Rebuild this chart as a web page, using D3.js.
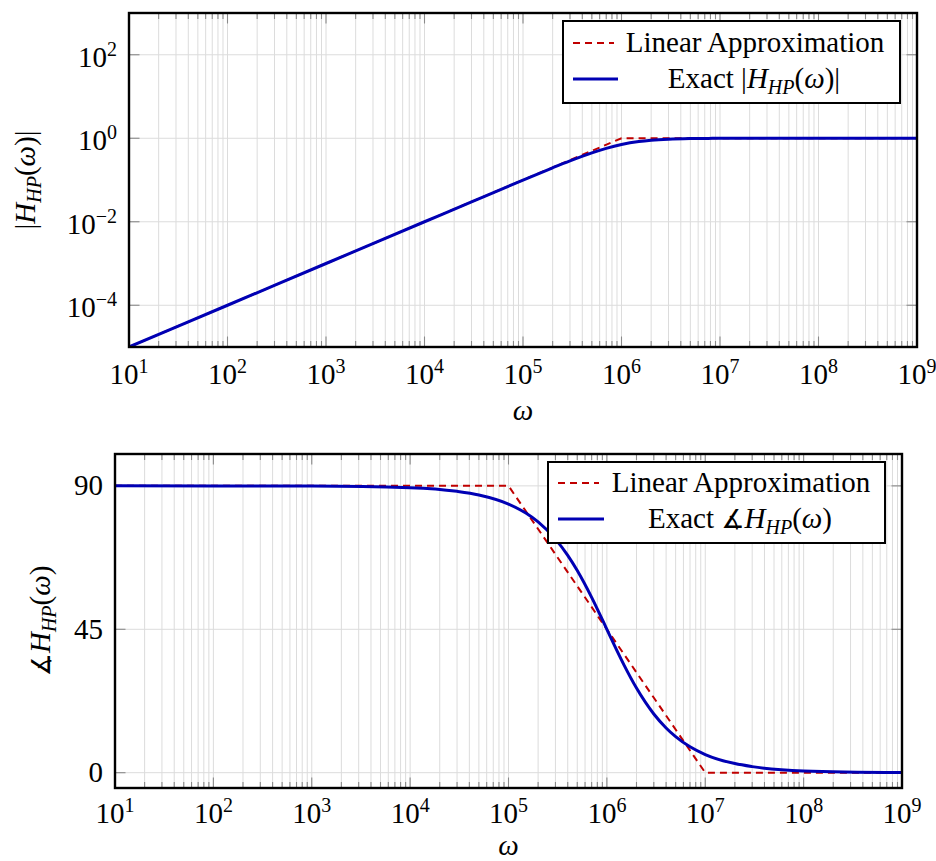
<!DOCTYPE html>
<html>
<head>
<meta charset="utf-8">
<script src="https://cdn.jsdelivr.net/npm/d3@7"></script>
<style>
  html, body { margin: 0; padding: 0; background: #fff; }
</style>
</head>
<body>
<svg id="chart" width="936" height="861"></svg>
<script>
// ---------------- data ----------------
const xTickExponents = [1, 2, 3, 4, 5, 6, 7, 8, 9];
const magTickExponents = [-4, -2, 0, 2];
const phaseTicks = [0, 45, 90];

// magnitude, exact curve
const magOmega = [1e1, 1e2, 1e3, 1e4, 3e4, 1e5, 2e5, 3e5, 5e5, 7e5, 1e6, 1.5e6, 2e6, 3e6, 5e6, 1e7, 3e7, 1e8, 1e9];
const magExact = [1e-5, 1e-4, 1e-3, 1e-2, 0.03, 0.0995, 0.196, 0.287, 0.447, 0.573, 0.707, 0.832, 0.894, 0.949, 0.981, 0.995, 0.9994, 1.0, 1.0];
// magnitude, linear approximation
const magApproxOmega = [1e1, 1e6, 1e9];
const magApprox = [1e-5, 1, 1];

// phase, exact curve (degrees)
const phOmega = [1e1, 1e3, 1e4, 3e4, 5e4, 1e5, 1.5e5, 2e5, 3e5, 4e5, 5e5, 7e5, 8e5, 1e6, 1.2e6, 1.5e6, 2e6, 3e6, 4e6, 5e6, 7e6, 1e7, 2e7, 3e7, 1e8, 1e9];
const phExact = [90, 89.94, 89.43, 88.28, 87.14, 84.29, 81.47, 78.69, 73.3, 68.2, 63.43, 55.0, 51.34, 45, 39.8, 33.69, 26.57, 18.43, 14.04, 11.31, 8.13, 5.71, 2.86, 1.91, 0.57, 0.06];
// phase, linear approximation
const phApproxOmega = [1e1, 1e5, 1e7, 1e9];
const phApprox = [90, 90, 0, 0];

const legendTop = ["Linear Approximation", "Exact"];
const legendBottom = ["Linear Approximation", "Exact"];

// ---------------- style ----------------
const RED = "#c00000", BLUE = "#0000b4", GRID = "#dcdcdc", TICK = "#8a8a8a";
const FS = 29, SUP = 20;
const FONT = "\"Liberation Serif\", \"Times New Roman\", \"Tinos\", \"DejaVu Serif\", serif";
const ANGLE_FONT = "\"DejaVu Serif\", \"DejaVu Sans\", serif";

const svg = d3.select("#chart").attr("font-family", FONT);

function minorValues() {
  const v = [];
  for (let d = 1; d < 9; d++) for (let m = 2; m <= 9; m++) v.push(m * Math.pow(10, d));
  return v;
}

function drawPanel(opt) {
  const { x, y, yTicks, yLabelFn, xLabelY, xTickLabelY } = opt;
  const [L, R] = x.range();
  const [B, T] = y.range();
  const g = svg.append("g");
  const clipId = "clip" + Math.round(T);
  svg.append("clipPath").attr("id", clipId).append("rect")
    .attr("x", L).attr("y", T).attr("width", R - L).attr("height", B - T);

  const majors = xTickExponents.map(e => Math.pow(10, e));
  const minors = minorValues();
  // grid
  g.selectAll(null).data(minors.concat(majors)).join("line")
    .attr("x1", d => x(d)).attr("x2", d => x(d)).attr("y1", T).attr("y2", B)
    .attr("stroke", GRID).attr("stroke-width", 1);
  g.selectAll(null).data(yTicks).join("line")
    .attr("x1", L).attr("x2", R).attr("y1", d => y(d)).attr("y2", d => y(d))
    .attr("stroke", GRID).attr("stroke-width", 1);

  // ticks (inward, both sides)
  const tk = g.append("g").attr("stroke", TICK).attr("stroke-width", 1.1);
  tk.selectAll(null).data(minors).join("line")
    .attr("x1", d => x(d)).attr("x2", d => x(d)).attr("y1", B).attr("y2", B - 6);
  tk.selectAll(null).data(minors).join("line")
    .attr("x1", d => x(d)).attr("x2", d => x(d)).attr("y1", T).attr("y2", T + 6);
  tk.selectAll(null).data(majors).join("line")
    .attr("x1", d => x(d)).attr("x2", d => x(d)).attr("y1", B).attr("y2", B - 10.5);
  tk.selectAll(null).data(majors).join("line")
    .attr("x1", d => x(d)).attr("x2", d => x(d)).attr("y1", T).attr("y2", T + 10.5);
  tk.selectAll(null).data(yTicks).join("line")
    .attr("x1", L).attr("x2", L + 10.5).attr("y1", d => y(d)).attr("y2", d => y(d));
  tk.selectAll(null).data(yTicks).join("line")
    .attr("x1", R).attr("x2", R - 10.5).attr("y1", d => y(d)).attr("y2", d => y(d));

  // x tick labels
  xTickExponents.forEach(e => {
    const t = g.append("text").attr("x", x(Math.pow(10, e))).attr("y", xTickLabelY)
      .attr("text-anchor", "middle").attr("font-size", FS);
    t.append("tspan").text("10");
    t.append("tspan").attr("dy", -11).attr("font-size", SUP).text(e);
  });
  // y tick labels
  yTicks.forEach(v => yLabelFn(g, L - 12, y(v), v));

  // x axis label
  g.append("text").attr("x", (L + R) / 2).attr("y", xLabelY).attr("text-anchor", "middle")
    .attr("font-size", FS).attr("font-style", "italic").text("ω");

  return { g, clipId };
}

function label(t, parts) {
  parts.forEach(p => {
    const s = t.append("tspan").text(p.t);
    if (p.i) s.attr("font-style", "italic");
    if (p.fs) s.attr("font-size", p.fs);
    if (p.dy) s.attr("dy", p.dy);
    if (p.ff) s.attr("font-family", p.ff);
  });
}

// ================= TOP PANEL =================
const x1 = d3.scaleLog().domain([1e1, 1e9]).range([129, 917]);
const y1 = d3.scaleLog().domain([1e-5, 1e3]).range([347, 13]);
const magTickVals = magTickExponents.map(e => Math.pow(10, e));

const topP = drawPanel({
  x: x1, y: y1, yTicks: magTickVals,
  xTickLabelY: 384, xLabelY: 420,
  yLabelFn: (g, xr, yy, v) => {
    const t = g.append("text").attr("x", xr).attr("y", yy + 12).attr("text-anchor", "end").attr("font-size", FS);
    t.append("tspan").text("10");
    const e = Math.round(Math.log10(v));
    t.append("tspan").attr("dy", -11).attr("font-size", SUP).text(e < 0 ? "−" + (-e) : e);
  }
});

topP.g.append("path").attr("clip-path", `url(#${topP.clipId})`)
  .datum(magApproxOmega.map((w, i) => [w, magApprox[i]]))
  .attr("d", d3.line().x(d => x1(d[0])).y(d => y1(d[1])))
  .attr("fill", "none").attr("stroke", RED).attr("stroke-width", 2).attr("stroke-dasharray", "7,5");
topP.g.append("path").attr("clip-path", `url(#${topP.clipId})`)
  .datum(magOmega.map((w, i) => [w, magExact[i]]))
  .attr("d", d3.line().x(d => x1(d[0])).y(d => y1(d[1])).curve(d3.curveMonotoneX))
  .attr("fill", "none").attr("stroke", BLUE).attr("stroke-width", 3);

// frame
topP.g.append("rect").attr("x", 129).attr("y", 13).attr("width", 917 - 129).attr("height", 347 - 13)
  .attr("fill", "none").attr("stroke", "#000").attr("stroke-width", 2.4);

// y label
{
  const t = topP.g.append("text").attr("transform", "translate(35,180) rotate(-90)")
    .attr("text-anchor", "middle").attr("font-size", FS);
  label(t, [{ t: "|" }, { t: "H", i: 1 }, { t: "HP", i: 1, fs: SUP, dy: 6 }, { t: "(", dy: -6 }, { t: "ω", i: 1 }, { t: ")|" }]);
}

// legend
{
  const lg = topP.g.append("g");
  lg.append("rect").attr("x", 563).attr("y", 21).attr("width", 900 - 563).attr("height", 103 - 21)
    .attr("fill", "#fff").attr("stroke", "#000").attr("stroke-width", 2);
  lg.append("line").attr("x1", 573).attr("x2", 614).attr("y1", 43).attr("y2", 43)
    .attr("stroke", RED).attr("stroke-width", 2).attr("stroke-dasharray", "7,5");
  lg.append("line").attr("x1", 573).attr("x2", 618).attr("y1", 79).attr("y2", 79)
    .attr("stroke", BLUE).attr("stroke-width", 3);
  lg.append("text").attr("x", 755).attr("y", 52).attr("text-anchor", "middle").attr("font-size", FS).text(legendTop[0]);
  const t = lg.append("text").attr("x", 754).attr("y", 88).attr("text-anchor", "middle").attr("font-size", FS);
  label(t, [{ t: legendTop[1] + " |" }, { t: "H", i: 1 }, { t: "HP", i: 1, fs: SUP, dy: 6 }, { t: "(", dy: -6 }, { t: "ω", i: 1 }, { t: ")|" }]);
}

// ================= BOTTOM PANEL =================
const x2 = d3.scaleLog().domain([1e1, 1e9]).range([115, 902]);
const y2 = d3.scaleLinear().domain([-4.8, 100]).range([788, 454]);

const botP = drawPanel({
  x: x2, y: y2, yTicks: phaseTicks,
  xTickLabelY: 823, xLabelY: 855,
  yLabelFn: (g, xr, yy, v) => {
    g.append("text").attr("x", xr).attr("y", yy + 9.5).attr("text-anchor", "end").attr("font-size", FS).text(v);
  }
});

botP.g.append("path").attr("clip-path", `url(#${botP.clipId})`)
  .datum(phApproxOmega.map((w, i) => [w, phApprox[i]]))
  .attr("d", d3.line().x(d => x2(d[0])).y(d => y2(d[1])))
  .attr("fill", "none").attr("stroke", RED).attr("stroke-width", 2).attr("stroke-dasharray", "7,5");
botP.g.append("path").attr("clip-path", `url(#${botP.clipId})`)
  .datum(phOmega.map((w, i) => [w, phExact[i]]))
  .attr("d", d3.line().x(d => x2(d[0])).y(d => y2(d[1])).curve(d3.curveMonotoneX))
  .attr("fill", "none").attr("stroke", BLUE).attr("stroke-width", 3);

botP.g.append("rect").attr("x", 115).attr("y", 454).attr("width", 902 - 115).attr("height", 788 - 454)
  .attr("fill", "none").attr("stroke", "#000").attr("stroke-width", 2.4);

{
  const t = botP.g.append("text").attr("transform", "translate(50,621) rotate(-90)")
    .attr("text-anchor", "middle").attr("font-size", FS);
  label(t, [{ t: "∡", ff: ANGLE_FONT, fs: 26 }, { t: "H", i: 1 }, { t: "HP", i: 1, fs: SUP, dy: 6 }, { t: "(", dy: -6 }, { t: "ω", i: 1 }, { t: ")" }]);
}

{
  const lg = botP.g.append("g");
  lg.append("rect").attr("x", 548).attr("y", 462).attr("width", 885 - 548).attr("height", 543 - 462)
    .attr("fill", "#fff").attr("stroke", "#000").attr("stroke-width", 2);
  lg.append("line").attr("x1", 558).attr("x2", 599).attr("y1", 483).attr("y2", 483)
    .attr("stroke", RED).attr("stroke-width", 2).attr("stroke-dasharray", "7,5");
  lg.append("line").attr("x1", 558).attr("x2", 604).attr("y1", 519).attr("y2", 519)
    .attr("stroke", BLUE).attr("stroke-width", 3);
  lg.append("text").attr("x", 741).attr("y", 492).attr("text-anchor", "middle").attr("font-size", FS).text(legendBottom[0]);
  const t = lg.append("text").attr("x", 740).attr("y", 528).attr("text-anchor", "middle").attr("font-size", FS);
  label(t, [{ t: legendBottom[1] + " " }, { t: "∡", ff: ANGLE_FONT, fs: 26 }, { t: "H", i: 1 }, { t: "HP", i: 1, fs: SUP, dy: 6 }, { t: "(", dy: -6 }, { t: "ω", i: 1 }, { t: ")" }]);
}
</script>
</body>
</html>
